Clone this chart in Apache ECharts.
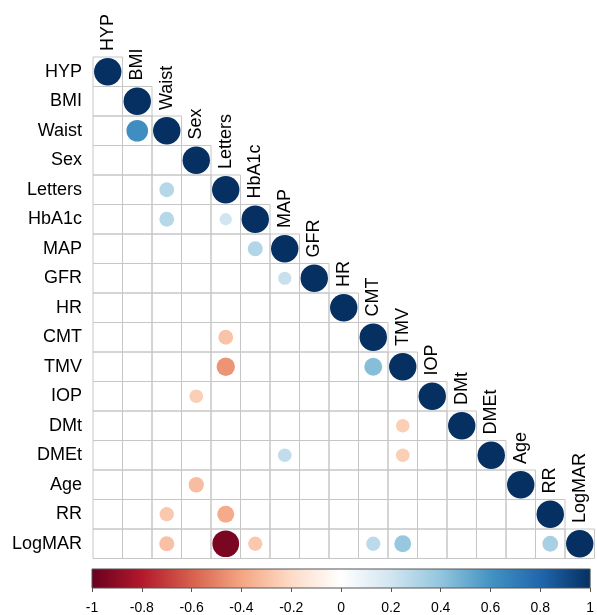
<!DOCTYPE html>
<html><head><meta charset="utf-8">
<script src="https://cdn.jsdelivr.net/npm/echarts@6/dist/echarts.min.js"></script>
<style>html,body{margin:0;padding:0;background:#fff}#c{width:597px;height:615px}</style>
</head><body><div id="c"></div>
<script>
const variables = ["HYP","BMI","Waist","Sex","Letters","HbA1c","MAP","GFR","HR","CMT","TMV","IOP","DMt","DMEt","Age","RR","LogMAR"];
// lower-triangle correlations shown (row variable, column variable, r); diagonal is 1
const corrPairs = [
  ["Waist","BMI",0.62],
  ["Letters","Waist",0.29],
  ["HbA1c","Waist",0.29],
  ["HbA1c","Letters",0.20],
  ["MAP","HbA1c",0.30],
  ["GFR","MAP",0.23],
  ["CMT","Letters",-0.29],
  ["TMV","Letters",-0.45],
  ["TMV","CMT",0.43],
  ["IOP","Sex",-0.25],
  ["DMt","TMV",-0.25],
  ["DMEt","MAP",0.25],
  ["DMEt","TMV",-0.25],
  ["Age","Sex",-0.31],
  ["RR","Waist",-0.27],
  ["RR","Letters",-0.38],
  ["LogMAR","Waist",-0.30],
  ["LogMAR","Letters",-0.95],
  ["LogMAR","HbA1c",-0.27],
  ["LogMAR","CMT",0.27],
  ["LogMAR","TMV",0.38],
  ["LogMAR","RR",0.33]
];
const colorbarTicks = [-1,-0.8,-0.6,-0.4,-0.2,0,0.2,0.4,0.6,0.8,1];
const palette = ["#67001F","#B2182B","#D6604D","#F4A582","#FDDBC7","#FFFFFF","#D1E5F0","#92C5DE","#4393C3","#2166AC","#053061"];

const idx = {}; variables.forEach((v,i)=>idx[v]=i);
const cells = [];
for (let i=0;i<variables.length;i++) for (let j=0;j<=i;j++) cells.push([j,i]);
const circles = variables.map((v,i)=>[i,i,1]);
corrPairs.forEach(p=>circles.push([idx[p[1]], idx[p[0]], p[2]]));
const FONT = "'Liberation Sans', Arial, sans-serif";

const chart = echarts.init(document.getElementById('c'), null, {renderer:'canvas'});
chart.setOption({
  backgroundColor:'#fff',
  animation:false,
  grid:[
    {left:93, top:57, width:501.5, height:501.5},
    {left:92, top:569, width:503, height:19}
  ],
  xAxis:[
    {gridIndex:0, type:'category', data:variables, show:false},
    {gridIndex:1, type:'value', min:colorbarTicks[0], max:colorbarTicks[colorbarTicks.length-1], interval:0.2,
     axisLine:{show:false}, splitLine:{show:false},
     axisTick:{show:true, length:4, lineStyle:{color:'#555'}},
     axisLabel:{fontSize:14, color:'#000', margin:13, fontFamily:FONT,
       formatter:v=>String(Math.round(v*10)/10)}}
  ],
  yAxis:[
    {gridIndex:0, type:'category', data:variables, inverse:true,
     axisLine:{show:false}, axisTick:{show:false}, splitLine:{show:false},
     axisLabel:{fontSize:18, color:'#000', margin:11, fontFamily:FONT}},
    {gridIndex:1, type:'value', min:0, max:1, show:false}
  ],
  visualMap:{show:false, type:'continuous', min:-1, max:1, dimension:2, seriesIndex:1,
    inRange:{color:palette}},
  series:[
    {type:'custom', xAxisIndex:0, yAxisIndex:0, clip:false, data:cells,
     renderItem:(params, api)=>{
       const c = api.coord([api.value(0), api.value(1)]);
       const s = api.size([1,1]);
       return {type:'rect', shape:{x:c[0]-s[0]/2, y:c[1]-s[1]/2, width:s[0], height:s[1]},
         style:{fill:null, stroke:'#c6c6c6', lineWidth:1}};
     }},
    {type:'custom', xAxisIndex:0, yAxisIndex:0, clip:false, data:circles,
     renderItem:(params, api)=>{
       const c = api.coord([api.value(0), api.value(1)]);
       const s = api.size([1,1]);
       const r = 0.465*s[0]*Math.sqrt(Math.abs(api.value(2)));
       return {type:'circle', shape:{cx:c[0], cy:c[1], r:r}, style:{fill:api.visual('color')}};
     }},
    {type:'custom', xAxisIndex:0, yAxisIndex:0, clip:false, data:variables.map((v,i)=>[i,i]),
     renderItem:(params, api)=>{
       const c = api.coord([api.value(0), api.value(1)]);
       const s = api.size([1,1]);
       return {type:'text', x:c[0], y:c[1]-s[1]/2-6, rotation:Math.PI/2,
         style:{text:variables[params.dataIndex], fontSize:18, fill:'#000', fontFamily:FONT,
           align:'left', verticalAlign:'middle'}};
     }},
    {type:'custom', xAxisIndex:1, yAxisIndex:1, clip:false, data:[[-1,1]],
     renderItem:(params, api)=>{
       const p1 = api.coord([api.value(0), 1]);
       const p2 = api.coord([api.value(1), 0]);
       const stops = palette.map((col,k)=>({offset:k/(palette.length-1), color:col}));
       return {type:'rect', shape:{x:p1[0], y:p1[1], width:p2[0]-p1[0], height:p2[1]-p1[1]},
         style:{fill:new echarts.graphic.LinearGradient(0,0,1,0,stops), stroke:'#555', lineWidth:1}};
     }}
  ]
});
</script></body></html>
